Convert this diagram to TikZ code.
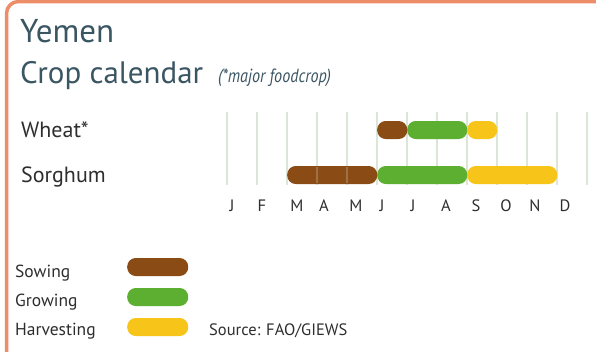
\documentclass[tikz,border=0pt]{standalone}
\usepackage{fontspec}
\setmainfont{PT Sans}
\definecolor{framec}{HTML}{EC8E6A}
\definecolor{titlec}{HTML}{3B5663}
\definecolor{textc}{HTML}{2E2E2E}
\definecolor{gridc}{HTML}{DCE6D6}
\definecolor{sowc}{HTML}{8A4B14}
\definecolor{growc}{HTML}{5DAF32}
\definecolor{harvc}{HTML}{F7C519}
\begin{document}
\begin{tikzpicture}[x=1pt,y=-1pt,
  bar/.style={rounded corners=8.5pt, inner sep=0pt, minimum height=18pt, anchor=west},
  lbl/.style={anchor=base west, inner sep=0pt, text=textc, font=\fontsize{17.5}{17.5}\selectfont},
  crop/.style={anchor=base west, inner sep=0pt, text=textc, font=\fontsize{22}{22}\selectfont},
  mon/.style={anchor=base, inner sep=0pt, text=textc, font=\fontsize{16.5}{16.5}\selectfont},
  ttl/.style={anchor=base west, inner sep=0pt, text=titlec, font=\fontsize{33}{33}\selectfont},
  gridline/.style={draw=gridc, line width=2pt}]
\useasboundingbox (0,0) rectangle (596,351);
\fill[white] (0,0) rectangle (596,351);
\begin{scope}
  \clip (0,0) rectangle (596,351);
  \draw[framec, line width=3.5pt, rounded corners=12pt] (6.5,1.5) rectangle (650,390);
\end{scope}
% titles
\node[ttl] (yemen) at (20,42) {Yemen};
\node[ttl, font=\fontsize{31}{31}\selectfont] (cal) at (20,83) {Crop calendar};
\node[anchor=base west, inner sep=0pt, text=titlec] (major) at (218,82)
  {\scalebox{0.85}[1]{\fontsize{19}{19}\selectfont\itshape (*major foodcrop)}};
% crop labels
\node[crop] (wheat) at (21,137) {Wheat*};
\node[crop] (sorghum) at (21,182) {Sorghum};
% grid
\foreach \i in {0,...,12} {
  \coordinate (gt\i) at ({227+30*\i},112);
  \coordinate (gb\i) at ({227+30*\i},185);
  \draw[gridline] (gt\i) -- (gb\i);
}
% months
\foreach \m/\x [count=\i from 0] in {J/232,F/262,M/297,A/324,M/356,J/382,J/413,A/446,S/476,O/506,N/535,D/565} {
  \node[mon] (m\i) at (\x,211) {\m};
}
% wheat bars
\node[bar, fill=sowc, minimum width=30pt] (wsow) at (377,130) {};
\node[bar, fill=growc, minimum width=60pt] (wgrow) at (407,130) {};
\node[bar, fill=harvc, minimum width=30pt] (wharv) at (467,130) {};
% sorghum bars
\node[bar, fill=sowc, minimum width=90pt] (ssow) at (287,175) {};
\node[bar, fill=growc, minimum width=90pt] (sgrow) at (377,175) {};
\node[bar, fill=harvc, minimum width=90pt] (sharv) at (467,175) {};
\foreach \i in {3,4} {
  \draw[gridc, line width=1.5pt, opacity=0.25] ({227+30*\i},167) -- ({227+30*\i},183);
}
% legend
\node[lbl] (lsow) at (15,277) {Sowing};
\node[lbl] (lgrow) at (15,306) {Growing};
\node[lbl] (lharv) at (15,335.5) {Harvesting};
\node[bar, fill=sowc, minimum width=61pt] (psow) at (127,267) {};
\node[bar, fill=growc, minimum width=61pt] (pgrow) at (127,297) {};
\node[bar, fill=harvc, minimum width=61pt] (pharv) at (127,327) {};
\node[lbl, font=\fontsize{16.5}{16.5}\selectfont] (src) at (209,335.5) {Source: FAO/GIEWS};
\end{tikzpicture}
\end{document}
